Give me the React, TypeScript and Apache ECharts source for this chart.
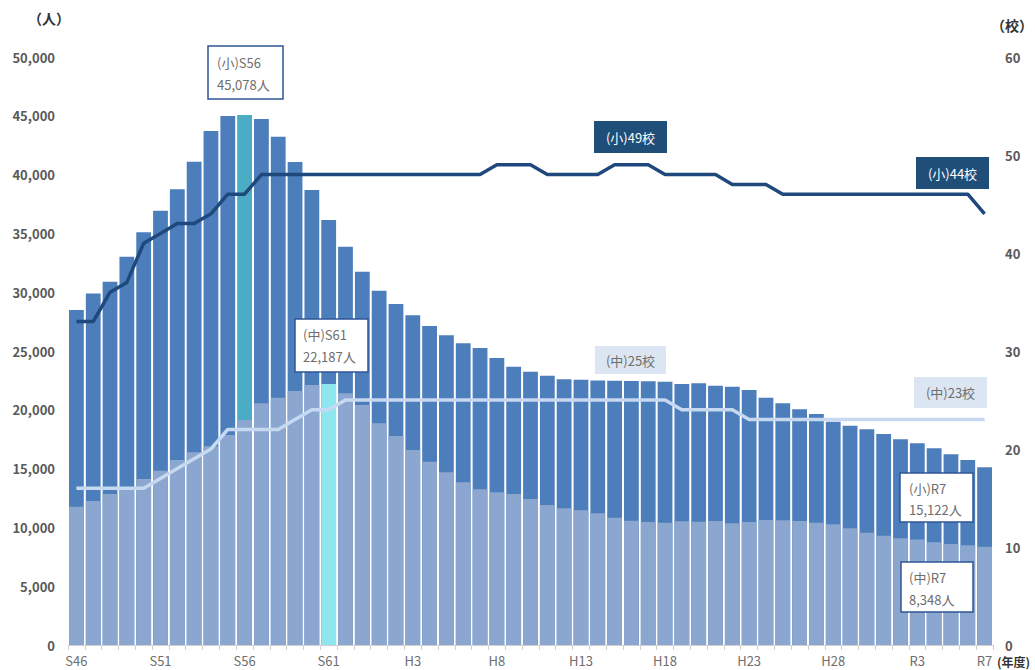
import React, { useEffect, useRef } from "react";
import * as echarts from "echarts";

const years: string[] = [
  "S46","S47","S48","S49","S50","S51","S52","S53","S54","S55","S56","S57","S58","S59","S60","S61","S62","S63",
  "H1","H2","H3","H4","H5","H6","H7","H8","H9","H10","H11","H12","H13","H14","H15","H16","H17","H18","H19","H20",
  "H21","H22","H23","H24","H25","H26","H27","H28","H29","H30",
  "R1","R2","R3","R4","R5","R6","R7",
];

const elemStudents: number[] = [
  28480, 29900, 30890, 33020, 35090, 36930, 38750, 41100, 43700, 44980,
  45078, 44720, 43220, 41070, 38680, 36140, 33870, 31740, 30130, 28990,
  28030, 27120, 26330, 25650, 25250, 24400, 23660, 23240, 22900, 22590,
  22550, 22500, 22480, 22450, 22420, 22380, 22190, 22250, 22050, 21960,
  21680, 21030, 20550, 20040, 19640, 18990, 18650, 18340, 17940, 17490,
  17150, 16730, 16210, 15730, 15122,
];

const juniorStudents: number[] = [
  11760, 12240, 12840, 13400, 14120, 14820, 15730, 16390, 16900, 17860,
  19130, 20550, 21030, 21600, 22110, 22187, 21400, 20400, 18850, 17770,
  16580, 15590, 14680, 13830, 13240, 12980, 12840, 12410, 11900, 11620,
  11450, 11200, 10820, 10570, 10460, 10400, 10520, 10490, 10540, 10350,
  10460, 10630, 10600, 10540, 10400, 10260, 9920, 9550, 9300, 9070,
  8980, 8730, 8590, 8480, 8348,
];

const elemSchools: number[] = [
  33, 33, 36, 37, 41, 42, 43, 43, 44, 46,
  46, 48, 48, 48, 48, 48, 48, 48, 48, 48,
  48, 48, 48, 48, 48, 49, 49, 49, 48, 48,
  48, 48, 49, 49, 49, 48, 48, 48, 48, 47,
  47, 47, 46, 46, 46, 46, 46, 46, 46, 46,
  46, 46, 46, 46, 44,
];

const juniorSchools: number[] = [
  16, 16, 16, 16, 16, 17, 18, 19, 20, 22,
  22, 22, 22, 23, 24, 24, 25, 25, 25, 25,
  25, 25, 25, 25, 25, 25, 25, 25, 25, 25,
  25, 25, 25, 25, 25, 25, 24, 24, 24, 24,
  23, 23, 23, 23, 23, 23, 23, 23, 23, 23,
  23, 23, 23, 23, 23,
];

const elemPeakIndex = 10; // S56
const juniorPeakIndex = 15; // S61

const FONT = '"Noto Sans CJK JP", "Noto Sans", sans-serif';
const DARK_BAR = "#4C7EBB";
const LIGHT_BAR = "#8BA6CF";
const ELEM_LINE = "#1F497D";
const JUNIOR_LINE = "#C6D9F1";
const TEXT_GRAY = "#6E6E6E";

function whiteBox(x: number, y: number, w: number, h: number, l1: string, l2: string, tx: number, ty1: number, ty2: number) {
  return {
    type: "group",
    children: [
      { type: "rect", shape: { x, y, width: w, height: h }, style: { fill: "#FFFFFF", stroke: "#2F5597", lineWidth: 1.5 }, z: 100 },
      { type: "text", x: tx, y: ty1, style: { text: l1, fill: TEXT_GRAY, fontSize: 13, fontFamily: FONT, textVerticalAlign: "middle" }, z: 101 },
      { type: "text", x: tx, y: ty2, style: { text: l2, fill: TEXT_GRAY, fontSize: 13, fontFamily: FONT, textVerticalAlign: "middle" }, z: 101 },
    ],
  };
}

function filledBox(x: number, y: number, w: number, h: number, text: string, fill: string, color: string) {
  return {
    type: "group",
    children: [
      { type: "rect", shape: { x, y, width: w, height: h }, style: { fill }, z: 100 },
      { type: "text", x: x + w / 2, y: y + h / 2, style: { text, fill: color, fontSize: 13, fontFamily: FONT, textAlign: "center", textVerticalAlign: "middle" }, z: 101 },
    ],
  };
}

export default function App() {
  const ref = useRef<HTMLDivElement>(null);
  useEffect(() => {
    if (!ref.current) return;
    const chart = echarts.init(ref.current, undefined, { renderer: "svg" });
    const lastIdx = years.length - 1;
    chart.setOption({
      animation: false,
      backgroundColor: "#FFFFFF",
      grid: { left: 68, right: 42, top: 57, bottom: 25 },
      xAxis: {
        type: "category",
        data: years,
        axisLine: { lineStyle: { color: "#D0D0D0", width: 1 } },
        axisTick: { show: true, interval: 0, length: 5, lineStyle: { color: "#D0D0D0" } },
        axisLabel: {
          interval: (i: number) => i % 5 === 0 || i === lastIdx,
          color: TEXT_GRAY,
          fontSize: 13,
          fontFamily: FONT,
          margin: 9,
        },
      },
      yAxis: [
        {
          type: "value",
          min: 0,
          max: 50000,
          interval: 5000,
          splitLine: { show: false },
          axisLine: { show: false },
          axisTick: { show: false },
          axisLabel: {
            color: "#595959",
            fontSize: 13,
            fontWeight: "bold",
            fontFamily: FONT,
            margin: 13,
            formatter: (v: number) => v.toLocaleString("en-US"),
          },
        },
        {
          type: "value",
          min: 0,
          max: 60,
          interval: 10,
          splitLine: { show: false },
          axisLine: { show: false },
          axisTick: { show: false },
          axisLabel: { color: "#595959", fontSize: 13, fontWeight: "bold", fontFamily: FONT, margin: 12 },
        },
      ],
      series: [
        {
          name: "小学校児童数",
          type: "bar",
          yAxisIndex: 0,
          barCategoryGap: "12%",
          barGap: "-100%",
          itemStyle: { color: DARK_BAR },
          data: elemStudents.map((v, i) => (i === elemPeakIndex ? { value: v, itemStyle: { color: "#4BACC6" } } : v)),
          z: 2,
        },
        {
          name: "中学校生徒数",
          type: "bar",
          yAxisIndex: 0,
          barCategoryGap: "12%",
          barGap: "-100%",
          itemStyle: { color: LIGHT_BAR },
          data: juniorStudents.map((v, i) => (i === juniorPeakIndex ? { value: v, itemStyle: { color: "#8FE6EF" } } : v)),
          z: 3,
        },
        {
          name: "小学校数",
          type: "line",
          yAxisIndex: 1,
          data: elemSchools,
          showSymbol: false,
          symbol: "none",
          lineStyle: { color: ELEM_LINE, width: 3.5 },
          z: 5,
        },
        {
          name: "中学校数",
          type: "line",
          yAxisIndex: 1,
          data: juniorSchools,
          showSymbol: false,
          symbol: "none",
          lineStyle: { color: JUNIOR_LINE, width: 3.5 },
          z: 5,
        },
      ],
      graphic: [
        { type: "text", left: 28, top: 11, style: { text: "（人）", fill: "#333333", fontSize: 14, fontWeight: "bold", fontFamily: FONT } },
        { type: "text", left: 991, top: 18, style: { text: "（校）", fill: "#333333", fontSize: 14, fontWeight: "bold", fontFamily: FONT } },
        { type: "text", left: 997, top: 655, style: { text: "(年度)", fill: "#333333", fontSize: 12, fontWeight: "bold", fontFamily: FONT } },
        whiteBox(208, 46, 75, 53, "(小)S56", "45,078人", 217, 62, 84),
        whiteBox(295, 319, 73, 53, "(中)S61", "22,187人", 303, 334, 356),
        whiteBox(900, 473, 73, 49, "(小)R7", "15,122人", 909, 488, 509),
        whiteBox(901, 562, 72, 50, "(中)R7", "8,348人", 909, 577, 599),
        filledBox(594, 121, 73, 32, "(小)49校", "#1F4E79", "#FFFFFF"),
        filledBox(595, 346, 71, 28, "(中)25校", "#DCE6F2", TEXT_GRAY),
        filledBox(916, 157, 73, 32, "(小)44校", "#1F4E79", "#FFFFFF"),
        filledBox(914, 377, 73, 31, "(中)23校", "#DCE6F2", TEXT_GRAY),
      ],
    });
    return () => chart.dispose();
  }, []);
  return (
    <div
      ref={ref}
      style={{ position: "fixed", left: 0, top: 0, width: 1035, height: 670, background: "#fff" }}
    />
  );
}
